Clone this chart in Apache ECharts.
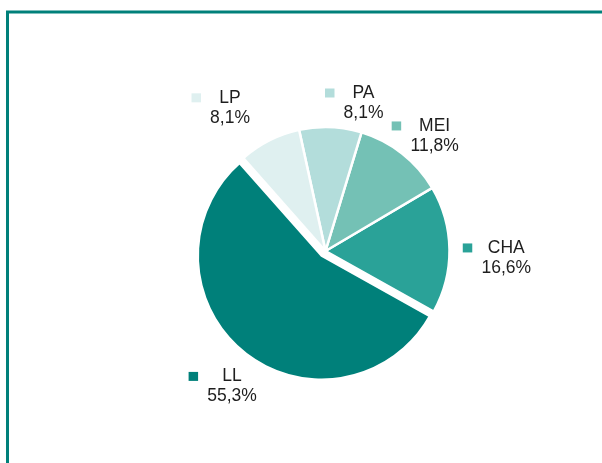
<!DOCTYPE html>
<html>
<head>
<meta charset="utf-8">
<script src="https://cdn.jsdelivr.net/npm/echarts@6/dist/echarts.min.js"></script>
<style>
html,body{margin:0;padding:0;background:#fff;}
#main{width:602px;height:463px;}
</style>
</head>
<body>
<div id="main"></div>
<script>
// data
var names = ['LL', 'CHA', 'MEI', 'PA', 'LP'];
var shares = [55.3, 16.6, 11.8, 8.1, 8.1];
var colors = ['#00807A', '#2AA298', '#74C1B5', '#B3DDDB', '#DFF0F0'];

// label placement around the pie: [angle in degrees, distance from centre]
var labelPolar = [[235.4, 164.5], [-2.2, 180.9], [46.5, 158.6], [75.6, 152.8], [123.7, 172.1]];
var pieCenter = [325.5, 251];
var startAngle = 131.5;
var explode = 6;
var fontSize = 17.5;
var textFont = fontSize + 'px "Liberation Sans", Arial, sans-serif';

var cnv = document.createElement('canvas').getContext('2d');
cnv.font = textFont;
function textW(s){ return cnv.measureText(s).width; }
function pctText(v){ return v.toFixed(1).replace('.', ',') + '%'; }

var total = shares.reduce(function(a, b){ return a + b; }, 0);
// mid angle of every slice (counter-clockwise from startAngle)
var midAngles = [];
var acc = startAngle;
shares.forEach(function(v){
	var span = v / total * 360;
	midAngles.push(acc + span / 2);
	acc += span;
});

var colW = [];
var pieData = names.map(function(n, i){
	var w = Math.ceil(Math.max(textW(n), textW(pctText(shares[i]))));
	colW.push(w);
	return {
		name: n,
		value: shares[i],
		selected: i === 0,
		itemStyle: { color: colors[i] },
		label: {
			rich: {
				sq: { width: 9.5, height: 9, backgroundColor: colors[i], verticalAlign: 'middle' },
				e: { width: 9.5, height: 9 },
				g: { width: 9 },
				n: { width: w, align: 'center', fontSize: fontSize, color: '#1E1E1E', fontFamily: 'Liberation Sans', lineHeight: 20 },
				p: { width: w, align: 'center', fontSize: fontSize, color: '#1E1E1E', fontFamily: 'Liberation Sans', lineHeight: 20 }
			}
		}
	};
});

var myChart = echarts.init(document.getElementById('main'));
var option = {
	animation: false,
	backgroundColor: '#fff',
	graphic: [{
		type: 'polyline',
		shape: { points: [[7.5, 470], [7.5, 12], [610, 12]] },
		style: { stroke: '#00807A', lineWidth: 3, fill: null },
		silent: true
	}],
	series: [{
		type: 'pie',
		center: pieCenter,
		radius: 124,
		startAngle: startAngle,
		clockwise: false,
		selectedMode: 'single',
		selectedOffset: explode,
		avoidLabelOverlap: false,
		silent: true,
		emphasis: { disabled: true },
		itemStyle: { borderColor: '#fff', borderWidth: 2.5 },
		label: {
			show: true,
			position: 'outside',
			formatter: function(p){
				return '{sq|}{g|}{n|' + p.name + '}\n{e|}{g|}{p|' + pctText(p.value) + '}';
			}
		},
		labelLine: { show: false },
		labelLayout: function(params){
			var i = params.dataIndex;
			var r = params.labelRect;
			var a = labelPolar[i][0] * Math.PI / 180;
			var d = labelPolar[i][1];
			var cx = pieCenter[0] + d * Math.cos(a);
			var cy = pieCenter[1] - d * Math.sin(a);
			// the exploded slice carries its label along, take that back out
			if (pieData[i].selected) {
				var m = midAngles[i] * Math.PI / 180;
				cx -= explode * Math.cos(m);
				cy += explode * Math.sin(m);
			}
			return {
				dx: (cx - colW[i] / 2 - 18.5) - r.x,
				dy: (cy - r.height / 2) - r.y
			};
		},
		data: pieData
	}]
};
myChart.setOption(option);
</script>
</body>
</html>
